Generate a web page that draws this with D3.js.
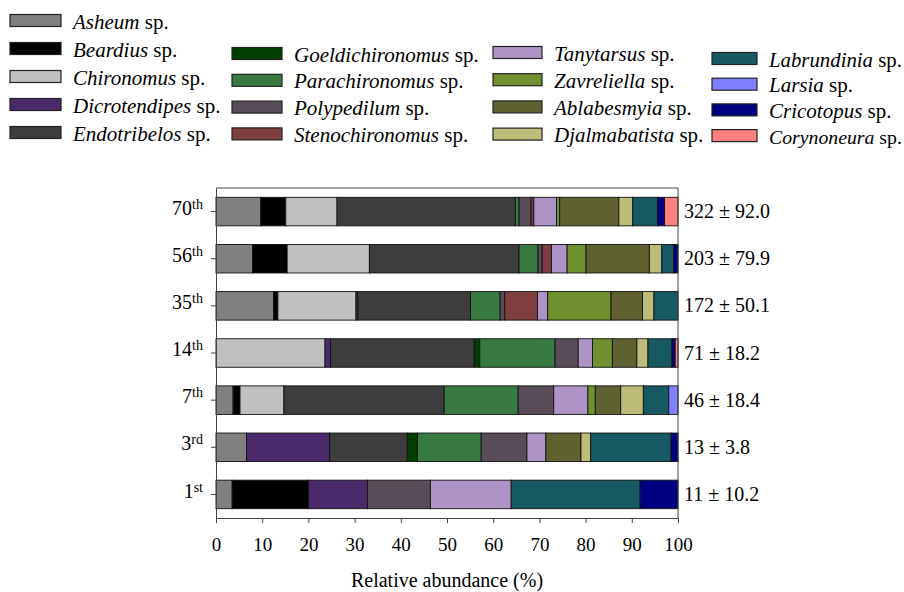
<!DOCTYPE html>
<html>
<head>
<meta charset="utf-8">
<script src="https://cdn.jsdelivr.net/npm/d3@7"></script>
<style>
  body { margin: 0; background: #fff; }
  svg, svg text { font-family: "Liberation Serif", "Times New Roman", Times, Tinos, "DejaVu Serif", serif; }
</style>
</head>
<body>
<script>
  // species, in stacking and legend order
  var species = ["Asheum", "Beardius", "Chironomus", "Dicrotendipes", "Endotribelos",
    "Goeldichironomus", "Parachironomus", "Polypedilum", "Stenochironomus",
    "Tanytarsus", "Zavreliella", "Ablabesmyia", "Djalmabatista",
    "Labrundinia", "Larsia", "Cricotopus", "Corynoneura"];
  var colors = ["#808080", "#000000", "#c0c0c0", "#4b2a6b", "#3d3d3d",
    "#003f00", "#387a41", "#574c57", "#7f3f40",
    "#ae93c7", "#71902f", "#606131", "#bdbd79",
    "#175962", "#8080ff", "#000080", "#ff8080"];

  var stages = ["70th", "56th", "35th", "14th", "7th", "3rd", "1st"];
  var totals = ["322 ± 92.0", "203 ± 79.9", "172 ± 50.1", "71 ± 18.2", "46 ± 18.4", "13 ± 3.8", "11 ± 10.2"];

  // relative abundance (%) per stage, same order as species
  var day70 = [9.7, 5.4, 11.1, 0, 38.6, 0, 0.8, 2.6, 0.6, 4.9, 0.7, 12.8, 3.0, 5.4, 0, 1.5, 2.9];
  var day56 = [7.9, 7.5, 17.8, 0, 32.4, 0, 4.1, 0.9, 2.0, 3.4, 4.1, 13.7, 2.7, 2.6, 0, 0.9, 0];
  var day35 = [12.5, 0.9, 16.9, 0.4, 24.4, 0, 6.4, 1.0, 7.1, 2.2, 13.7, 6.8, 2.5, 5.2, 0, 0, 0];
  var day14 = [0, 0, 23.6, 1.2, 31.1, 1.2, 16.3, 5.0, 0, 3.1, 4.3, 5.3, 2.4, 5.2, 0, 0.7, 0.6];
  var day7  = [3.7, 1.5, 9.5, 0, 34.7, 0, 16.0, 7.7, 0, 7.4, 1.6, 5.5, 4.9, 5.5, 2.0, 0, 0];
  var day3  = [6.6, 0, 0, 18.0, 16.8, 2.2, 13.8, 9.9, 0, 4.1, 0, 7.6, 2.1, 17.4, 0, 1.5, 0];
  var day1  = [3.5, 16.5, 0, 12.8, 0, 0, 0, 13.6, 0, 17.5, 0, 0, 0, 27.9, 0, 8.2, 0];

  var xTicks = [0, 10, 20, 30, 40, 50, 60, 70, 80, 90, 100];

  var values = [day70, day56, day35, day14, day7, day3, day1];
  var table = stages.map(function(s, i) {
    var row = { stage: s, total: totals[i] };
    species.forEach(function(sp, j) { row[sp] = values[i][j]; });
    return row;
  });

  var width = 904, height = 592;
  var plot = { left: 216, right: 678, top: 188, bottom: 518 };
  var serif = '"Liberation Serif", "Times New Roman", Times, Tinos, "DejaVu Serif", serif';

  var svg = d3.select("body").append("svg")
    .attr("width", width)
    .attr("height", height)
    .style("font-family", serif);

  var x = d3.scaleLinear()
    .domain([0, 100])
    .range([plot.left, plot.right]);

  var y = d3.scaleBand()
    .domain(stages)
    .range([plot.top, plot.bottom])
    .paddingInner(0.395)
    .paddingOuter(0.1975);

  var color = d3.scaleOrdinal().domain(species).range(colors);

  var series = d3.stack().keys(species)(table);

  // bars
  svg.append("g")
    .selectAll("g")
    .data(series)
    .enter().append("g")
    .attr("fill", function(d) { return color(d.key); })
    .selectAll("rect")
    .data(function(d) { return d.filter(function(p) { return p[1] - p[0] > 0; }); })
    .enter().append("rect")
    .attr("x", function(d) { return x(d[0]); })
    .attr("y", function(d) { return y(d.data.stage); })
    .attr("width", function(d) { return x(d[1]) - x(d[0]); })
    .attr("height", y.bandwidth())
    .attr("stroke", "#111")
    .attr("stroke-width", 0.9);

  // frame lines (top, right)
  svg.append("line")
    .attr("x1", plot.left).attr("x2", plot.right)
    .attr("y1", plot.top).attr("y2", plot.top)
    .attr("stroke", "#444");
  svg.append("line")
    .attr("x1", plot.right).attr("x2", plot.right)
    .attr("y1", plot.top).attr("y2", plot.bottom)
    .attr("stroke", "#444");

  // x axis
  var xAxis = svg.append("g")
    .attr("transform", "translate(0," + plot.bottom + ")")
    .call(d3.axisBottom(x).tickValues(xTicks).tickSize(5).tickPadding(15).tickSizeOuter(0))
    .attr("font-family", null)
    .attr("font-size", 19);
  xAxis.select(".domain").attr("stroke", "#444");
  xAxis.selectAll(".tick line").attr("stroke", "#444");
  xAxis.selectAll("text")
    .style("font-family", serif)
    .attr("fill", "#000");

  svg.append("text")
    .attr("x", (plot.left + plot.right) / 2)
    .attr("y", 587)
    .attr("text-anchor", "middle")
    .attr("font-size", 20)
    .text("Relative abundance (%)");

  // y axis with superscript ordinal suffixes
  var yAxis = svg.append("g")
    .attr("transform", "translate(" + plot.left + ",0)")
    .call(d3.axisLeft(y).tickSize(5).tickPadding(0).tickSizeOuter(0))
    .attr("font-family", null);
  yAxis.select(".domain").attr("stroke", "#444");
  yAxis.selectAll(".tick line").attr("stroke", "#444");
  yAxis.selectAll(".tick text").remove();
  yAxis.selectAll(".tick").append("text")
    .attr("x", -13)
    .attr("dy", "0.32em")
    .attr("text-anchor", "end")
    .attr("fill", "#000")
    .style("font-family", serif)
    .each(function(d) {
      var m = d.match(/^(\d+)(\D+)$/);
      var t = d3.select(this);
      t.append("tspan").attr("font-size", 20).text(m[1]);
      t.append("tspan").attr("font-size", 14).attr("dy", -6).text(m[2]);
    });

  // totals on the right
  svg.append("g")
    .selectAll("text")
    .data(table)
    .enter().append("text")
    .attr("x", plot.right + 6)
    .attr("y", function(d) { return y(d.stage) + y.bandwidth() / 2; })
    .attr("dy", "0.33em")
    .attr("font-size", 20)
    .text(function(d) { return d.total; });

  // legend, four columns
  var legendCols = [
    { x: 10, w: 51, y0: 20.5, step: 28, items: [0, 1, 2, 3, 4] },
    { x: 232, w: 50, y0: 53.5, step: 26.8, items: [5, 6, 7, 8] },
    { x: 493, w: 49, y0: 52.5, step: 27.2, items: [9, 10, 11, 12] },
    { x: 712, w: 45, y0: 58.5, step: 25.7, items: [13, 14, 15, 16] }
  ];

  var legend = svg.append("g");
  legendCols.forEach(function(col) {
    col.items.forEach(function(k, i) {
      var cy = col.y0 + i * col.step;
      legend.append("rect")
        .attr("x", col.x)
        .attr("y", cy - 6)
        .attr("width", col.w)
        .attr("height", 12)
        .attr("fill", colors[k])
        .attr("stroke", "#222")
        .attr("stroke-width", 1.2);
      var tx = col.x + col.w + 12;
      var t = legend.append("text")
        .attr("x", tx)
        .attr("y", cy + 8)
        .attr("font-size", 21);
      t.append("tspan").attr("font-style", "italic").text(species[k]);
      t.append("tspan").text(" sp.");
      // squeeze anything that would run past the right edge
      var len = t.node().getComputedTextLength();
      if (tx + len > width - 2) {
        t.attr("font-size", 21 * (width - 2 - tx) / len);
      }
    });
  });
</script>
</body>
</html>
